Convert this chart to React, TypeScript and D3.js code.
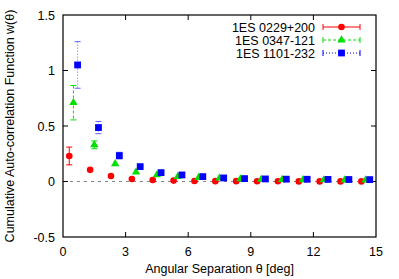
import React from "react";
import * as d3 from "d3";

// angular bins (deg) for each source, slightly offset so points don't overlap
const xRed = [0.3, 1.3, 2.3, 3.3, 4.3, 5.3, 6.3, 7.3, 8.3, 9.3, 10.3, 11.3, 12.3, 13.3, 14.3];
const xGreen = [0.5, 1.5, 2.5, 3.5, 4.5, 5.5, 6.5, 7.5, 8.5, 9.5, 10.5, 11.5, 12.5, 13.5, 14.5];
const xBlue = [0.7, 1.7, 2.7, 3.7, 4.7, 5.7, 6.7, 7.7, 8.7, 9.7, 10.7, 11.7, 12.7, 13.7, 14.7];

const wRed = [0.23, 0.105, 0.05, 0.023, 0.014, 0.008, 0.005, 0.003, 0.003, 0.002, 0.002, 0.001, 0.001, 0.001, 0.001];
const eRed = [0.08, 0.01, 0.006, 0.004, 0.003, 0.002, 0.002, 0.002, 0.001, 0.001, 0.001, 0.001, 0.001, 0.001, 0.001];

const wGreen = [0.71, 0.33, 0.16, 0.084, 0.059, 0.044, 0.035, 0.03, 0.023, 0.02, 0.017, 0.015, 0.014, 0.013, 0.012];
const eGreen = [0.155, 0.035, 0.018, 0.01, 0.007, 0.005, 0.004, 0.003, 0.003, 0.002, 0.002, 0.002, 0.002, 0.002, 0.002];

const wBlue = [1.05, 0.486, 0.233, 0.134, 0.08, 0.059, 0.044, 0.032, 0.026, 0.023, 0.021, 0.02, 0.019, 0.018, 0.017];
const eBlue = [0.21, 0.055, 0.03, 0.015, 0.01, 0.007, 0.005, 0.004, 0.003, 0.003, 0.003, 0.002, 0.002, 0.002, 0.002];

const sourceNames = ["1ES 0229+200", "1ES 0347-121", "1ES 1101-232"];
const xTicks = [0, 3, 6, 9, 12, 15];
const yTicks = [-0.5, 0, 0.5, 1, 1.5];

const W = 399;
const H = 279;
const margin = { left: 63, right: 23, top: 15, bottom: 42 };
const FONT = "'Liberation Sans', Arial, sans-serif";
const FS = 12.5;

const series = [
  { name: sourceNames[0], xs: xRed, ws: wRed, es: eRed, color: "#ff0000", dash: "none", shape: "circle" },
  { name: sourceNames[1], xs: xGreen, ws: wGreen, es: eGreen, color: "#00e000", dash: "3,2", shape: "triangle" },
  { name: sourceNames[2], xs: xBlue, ws: wBlue, es: eBlue, color: "#0000ff", dash: "1,2", shape: "square" },
];

const marker = (shape: string, cx: number, cy: number, color: string, key?: string) => {
  if (shape === "circle") return <circle key={key} cx={cx} cy={cy} r={3.3} fill={color} />;
  if (shape === "triangle") {
    const tri = d3.symbol().type(d3.symbolTriangle).size(30)();
    return <path key={key} d={tri || ""} transform={`translate(${cx},${cy})`} fill={color} />;
  }
  return <rect key={key} x={cx - 3.4} y={cy - 3.4} width={6.8} height={6.8} fill={color} />;
};

const App = () => {
  const x = d3.scaleLinear().domain([0, 15]).range([margin.left, W - margin.right]);
  const y = d3.scaleLinear().domain([-0.5, 1.5]).range([H - margin.bottom, margin.top]);
  const [x0, x1] = x.range();
  const [y0, y1] = y.range();
  const cap = 3;

  return (
    <svg width={W} height={H} style={{ position: "absolute", left: 0, top: 0, background: "#fff" }} fontFamily={FONT}>
      {/* zero reference line */}
      <line x1={x0} x2={x1} y1={y(0)} y2={y(0)} stroke="#888" strokeWidth={1} strokeDasharray="3,4" />

      {/* ticks */}
      {xTicks.slice(1, -1).map((t) => (
        <g key={"xt" + t}>
          <line x1={x(t)} x2={x(t)} y1={y0} y2={y0 - 5} stroke="#000" />
          <line x1={x(t)} x2={x(t)} y1={y1} y2={y1 + 5} stroke="#000" />
        </g>
      ))}
      {yTicks.slice(1, -1).map((t) => (
        <g key={"yt" + t}>
          <line x1={x0} x2={x0 + 5} y1={y(t)} y2={y(t)} stroke="#000" />
          <line x1={x1} x2={x1 - 5} y1={y(t)} y2={y(t)} stroke="#000" />
        </g>
      ))}
      {xTicks.map((t) => (
        <text key={"xl" + t} x={x(t)} y={y0 + 19} textAnchor="middle" fontSize={FS}>
          {t}
        </text>
      ))}
      {yTicks.map((t) => (
        <text key={"yl" + t} x={x0 - 8} y={y(t) + 4.5} textAnchor="end" fontSize={FS}>
          {t}
        </text>
      ))}

      {/* data */}
      {series.map((s) => (
        <g key={s.name}>
          {s.xs.map((xv, i) => {
            const px = x(xv);
            const top = y(s.ws[i] + s.es[i]);
            const bot = y(s.ws[i] - s.es[i]);
            if (bot - top < 4) return null;
            return (
              <g key={i} stroke={s.color} strokeWidth={1} strokeDasharray={s.dash} opacity={s.shape === "square" ? 0.6 : 1}>
                <line x1={px} x2={px} y1={top} y2={bot} />
                <line x1={px - cap} x2={px + cap} y1={top} y2={top} strokeDasharray="none" />
                <line x1={px - cap} x2={px + cap} y1={bot} y2={bot} strokeDasharray="none" />
              </g>
            );
          })}
          {s.xs.map((xv, i) => marker(s.shape, x(xv), y(s.ws[i]), s.color, "m" + i))}
        </g>
      ))}

      {/* frame */}
      <rect x={x0} y={y1} width={x1 - x0} height={y0 - y1} fill="none" stroke="#000" strokeWidth={1.2} />

      {/* legend */}
      {series.map((s, i) => {
        const ly = 27 + i * 13;
        return (
          <g key={"lg" + i}>
            <text x={315} y={ly + 4.5} textAnchor="end" fontSize={FS}>
              {s.name}
            </text>
            <line x1={323} x2={360} y1={ly} y2={ly} stroke={s.color} strokeDasharray={s.dash} />
            <line x1={323} x2={323} y1={ly - 3} y2={ly + 3} stroke={s.color} />
            <line x1={360} x2={360} y1={ly - 3} y2={ly + 3} stroke={s.color} />
            {marker(s.shape, 341.5, ly, s.color)}
          </g>
        );
      })}

      {/* axis titles */}
      <text x={(x0 + x1) / 2} y={H - 6} textAnchor="middle" fontSize={FS}>
        Angular Separation θ [deg]
      </text>
      <text transform={`translate(14,${(y0 + y1) / 2}) rotate(-90)`} textAnchor="middle" fontSize={FS}>
        Cumulative Auto-correlation Function w(θ)
      </text>
    </svg>
  );
};

export default App;
